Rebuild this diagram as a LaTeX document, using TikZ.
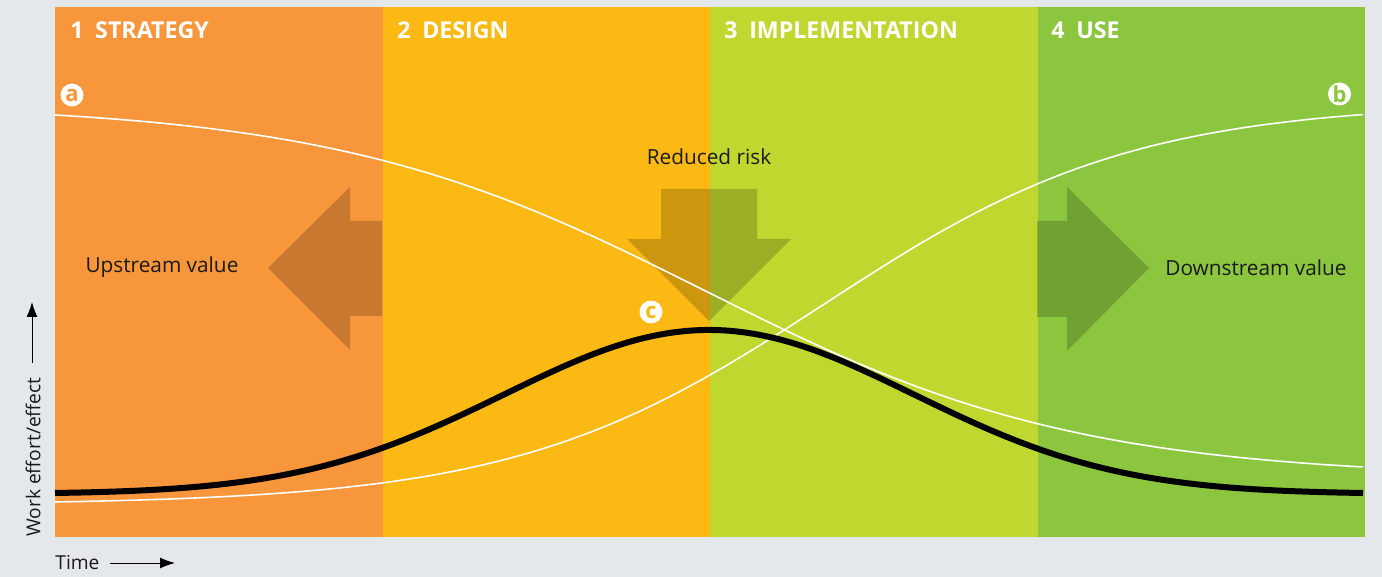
\documentclass[tikz,border=0pt]{standalone}
\usepackage{fontspec}
\setmainfont{Open Sans}
\usetikzlibrary{arrows.meta}

\definecolor{pagegrey}{HTML}{E4E8EB}
\definecolor{phaseA}{HTML}{F7963A}
\definecolor{phaseB}{HTML}{FDB913}
\definecolor{phaseC}{HTML}{C0D72F}
\definecolor{phaseD}{HTML}{8CC63F}
\definecolor{inktext}{HTML}{1A1A1A}

\tikzset{
  phasebox/.style={draw=none, inner sep=0pt, minimum width=327.5*0.5pt, minimum height=530*0.5pt},
  phasehead/.style={anchor=base west, inner sep=0pt, text=white,
                    font=\fontsize{11.6}{13}\selectfont\bfseries},
  bodylabel/.style={inner sep=0pt, text=inktext, font=\fontsize{10.4}{12}\selectfont},
  axislabel/.style={inner sep=0pt, text=inktext, font=\fontsize{9.6}{11}\selectfont},
  axisarrow/.style={line width=0.5pt, -{Latex[length=7.5pt,width=5.5pt]}},
  bigarrow/.style={fill=black, fill opacity=0.19, draw=none},
  thinline/.style={draw=white, line width=0.8pt},
  boldline/.style={draw=black, line width=3pt},
  badge/.style={circle, fill=white, inner sep=0pt, minimum size=11.5pt,
                font=\fontsize{11}{11}\selectfont\bfseries},
}

\begin{document}
\begin{tikzpicture}[x=0.5pt, y=-0.5pt]
  % page and frame
  \fill[pagegrey] (0,0) rectangle (1382,577);
  \useasboundingbox (0,0) rectangle (1382,577);

  % the four phases
  \node[phasebox, fill=phaseA, anchor=north west] (p1) at (55,7) {};
  \node[phasebox, fill=phaseB, anchor=north west] (p2) at (382.5,7) {};
  \node[phasebox, fill=phaseC, anchor=north west] (p3) at (710,7) {};
  \node[phasebox, fill=phaseD, anchor=north west] (p4) at (1037.5,7) {};

  \node[phasehead] (h1) at (70,39) {1\enspace STRATEGY};
  \node[phasehead] (h2) at (397,39) {2\enspace DESIGN};
  \node[phasehead] (h3) at (724,39) {3\enspace IMPLEMENTATION};
  \node[phasehead] (h4) at (1051,39) {4\enspace USE};

  % translucent value arrows
  \fill[bigarrow] (382,221) -- (350,221) -- (350,187) -- (268,268)
                  -- (350,350) -- (350,316) -- (382,316) -- cycle;
  \fill[bigarrow] (661,189) -- (757,189) -- (757,239) -- (791,239)
                  -- (709,321) -- (627,239) -- (661,239) -- cycle;
  \fill[bigarrow] (1037,221) -- (1067,221) -- (1067,187) -- (1149,268)
                  -- (1067,351) -- (1067,317) -- (1037,317) -- cycle;

  % falling curve (a), rising curve (b), effort bump (c)
  \draw[thinline] plot[domain=55:1363, samples=160, smooth]
        (\x, {115 + 352*((1/(1+exp(-(\x-705)/187))) - 0.0300)/0.9412});
  \draw[thinline] plot[domain=55:1363, samples=160, smooth]
        (\x, {502 - 387*((1/(1+exp(-(\x-825)/155))) - 0.00690)/0.9617});
  \draw[boldline] plot[domain=55:1363, samples=160, smooth]
        (\x, {494 - 164*exp(-0.5*((\x-709)/205)^2)});

  % markers
  \node[badge, text=phaseA] (ma) at (72,95) {a};
  \node[badge, text=phaseD] (mb) at (1339.5,94) {b};
  \node[badge, text=phaseB] (mc) at (651,312) {c};

  % captions
  \node[bodylabel] (up) at (162,267) {Upstream value};
  \node[bodylabel] (down) at (1256,268) {Downstream value};
  \node[bodylabel] (risk) at (709,157) {Reduced risk};

  % axes
  \node[axislabel, rotate=90] (ylab) at (33,457) {Work effort/effect};
  \coordinate (ybase) at (32,363);
  \coordinate (ytip) at (32,302);
  \draw[axisarrow] (ybase) -- (ytip);

  \node[axislabel, anchor=west] (xlab) at (55,563) {Time};
  \coordinate (xbase) at (110,563);
  \coordinate (xtip) at (175,563);
  \draw[axisarrow] (xbase) -- (xtip);
\end{tikzpicture}
\end{document}
